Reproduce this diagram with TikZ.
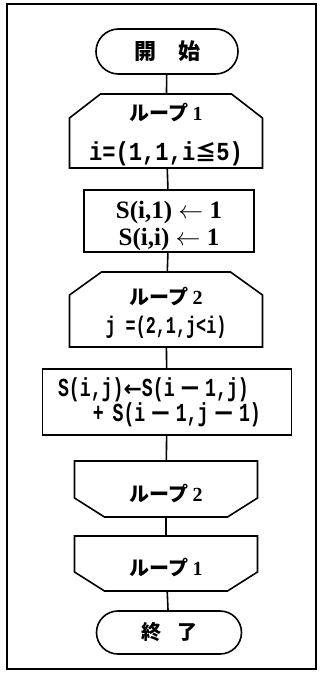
\documentclass[tikz,border=0pt]{standalone}
\usepackage{fontspec}
\usepackage{tikz}
\usetikzlibrary{shapes.misc}
\newfontfamily\jpfont{Noto Sans CJK JP}
\newfontfamily\codefont[FakeStretch=0.7]{Liberation Mono}
\newfontfamily\condfont[FakeStretch=0.85]{Liberation Mono}
\newfontfamily\seriffont{Liberation Serif}
\newfontfamily\symfont{DejaVu Sans}

\begin{document}
\begin{tikzpicture}[x=1pt, y=-1pt, line width=1.6pt,
    terminale/.style={rounded rectangle, draw, minimum width=142pt, minimum height=45pt, inner sep=0pt,
        font=\jpfont\bfseries\fontsize{22}{24}\selectfont},
    apre/.style={rectangle, minimum width=193pt, minimum height=74pt, inner sep=0pt, outer sep=0pt, align=center,
        font=\jpfont\bfseries\fontsize{20}{22}\selectfont},
    chiude/.style={rectangle, minimum width=183pt, minimum height=55pt, inner sep=0pt, outer sep=0pt,
        text height=24pt, text depth=0pt, font=\jpfont\bfseries\fontsize{20}{22}\selectfont},
    blocco/.style={rectangle, draw, inner sep=0pt, outer sep=0pt},
    cornice/.style={line width=1.2pt},
    linea/.style={line width=1.6pt}]

\useasboundingbox (0,0) rectangle (321,680);

% Cornice
\draw[cornice] (7,4) rectangle (316,669);

% Inizio
\node[terminale] (ini) at (167,51.5) {開　始};

% Ciclo 1 (apertura)
\node[apre, text height=62pt, text depth=4pt] (c1a) at (166,131)
    {ループ {\seriffont 1}\\[18pt]{\condfont\fontsize{26}{30}\selectfont i=(1,1,i{\jpfont\fontsize{21}{24}\selectfont ≦}5)}};
\draw (c1a.south west) -- ([yshift=-24pt]c1a.north west) -- ([xshift=31pt]c1a.north west)
    -- ([xshift=-31pt]c1a.north east) -- ([yshift=-24pt]c1a.north east) -- (c1a.south east) -- cycle;

% Valori iniziali
\node[blocco, minimum width=170pt, minimum height=62pt, align=center, text height=52pt, text depth=4pt,
    font=\seriffont\bfseries\fontsize{25}{27}\selectfont] (b1) at (169,221)
    {S(i,1) $\leftarrow$ 1\\S(i,i) $\leftarrow$ 1};

% Ciclo 2 (apertura)
\node[apre, minimum height=75pt, text height=51pt, text depth=4pt] (c2a) at (166,309.5)
    {ループ {\seriffont 2}\\[7pt]{\codefont\fontsize{24}{30}\selectfont j =(2,1,j<i)}};
\draw (c2a.south west) -- ([yshift=-23pt]c2a.north west) -- ([xshift=32pt]c2a.north west)
    -- ([xshift=-32pt]c2a.north east) -- ([yshift=-23pt]c2a.north east) -- (c2a.south east) -- cycle;

% Somma
\node[blocco, minimum width=249pt, minimum height=66pt, align=left, text width=218pt,
    font={\codefont\bfseries\fontsize{26}{25}\selectfont\lineskiplimit-100pt\relax}] (b2) at (167,402)
    {S(i,j){\symfont\fontsize{22}{22}\selectfont ←}S(i\,{\symfont −}\,1,j)\\\hspace*{35pt}+ S(i\,{\symfont −}\,1,j\,{\symfont −}\,1)};

% Ciclo 2 (chiusura)
\node[chiude, minimum height=56pt] (c2c) at (166,489) {ループ {\seriffont 2}};
\draw (c2c.north west) -- (c2c.north east) -- ([yshift=19pt]c2c.south east) -- ([xshift=-30pt]c2c.south east)
    -- ([xshift=30pt]c2c.south west) -- ([yshift=19pt]c2c.south west) -- cycle;

% Ciclo 1 (chiusura)
\node[chiude] (c1c) at (166,563.5) {ループ {\seriffont 1}};
\draw (c1c.north west) -- (c1c.north east) -- ([yshift=19pt]c1c.south east) -- ([xshift=-30pt]c1c.south east)
    -- ([xshift=30pt]c1c.south west) -- ([yshift=19pt]c1c.south west) -- cycle;

% Fine
\node[terminale, minimum width=145pt, minimum height=43pt, font=\jpfont\bfseries\fontsize{20}{22}\selectfont]
    (fine) at (169,632.5) {終\hspace{0.8em}了};

% Collegamenti
\draw[linea] (ini) -- (c1a);
\draw[linea] (c1a) -- (b1);
\draw[linea] (b1) -- (c2a);
\draw[linea] (c2a) -- (b2);
\draw[linea] (b2) -- (c2c);
\draw[linea] (c2c) -- (c1c);
\draw[linea] (c1c) -- (fine);

\end{tikzpicture}
\end{document}
